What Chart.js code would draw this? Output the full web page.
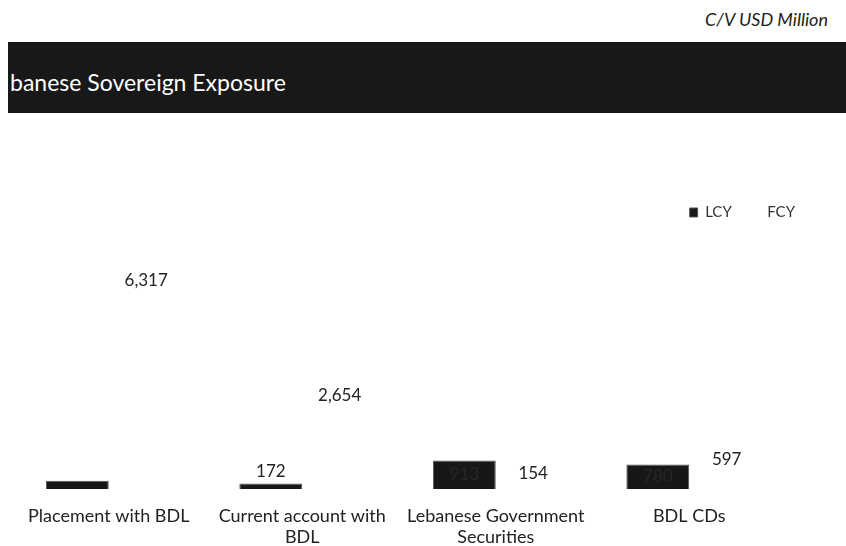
<!DOCTYPE html>
<html>
<head>
<meta charset="utf-8">
<script src="https://cdn.jsdelivr.net/npm/chart.js@4.4.0/dist/chart.umd.min.js"></script>
<style>
  html, body { margin: 0; padding: 0; background: #fff; width: 846px; height: 546px; overflow: hidden; }
  body { position: relative; font-family: Lato, "Open Sans", sans-serif; }
  .unit { position: absolute; right: 18px; top: 8px; font-size: 18px; font-style: italic; color: #222; }
  .band { position: absolute; left: 8px; right: 0; top: 42px; height: 71px; background: #181818; }
  .band span { position: absolute; left: 2px; top: 26px; font-size: 23px; color: #fff; }
  #wrap { position: absolute; left: 0; top: 171px; width: 846px; height: 390px; }
</style>
</head>
<body>
<div class="unit">C/V USD Million</div>
<div class="band"><span>banese Sovereign Exposure</span></div>
<div id="wrap"><canvas id="myChart"></canvas></div>
<script>
const categories = [
  "Placement with BDL",
  ["Current account with", "BDL"],
  ["Lebanese Government", "Securities"],
  "BDL CDs"
];
const lcyValues = [260, 172, 913, 780];
const fcyValues = [6317, 2654, 154, 597];
// where each LCY value label goes: "top", "inside" or none
const lcyLabelMode = ["none", "top", "inside", "inside"];

const FONT = "Lato, 'Open Sans', sans-serif";
const fmt = v => v.toLocaleString("en-US");

const valueLabels = {
  id: "valueLabels",
  afterDatasetsDraw(chart) {
    const ctx = chart.ctx;
    ctx.save();
    ctx.font = "17px " + FONT;
    ctx.textAlign = "center";
    ctx.textBaseline = "bottom";
    chart.getDatasetMeta(0).data.forEach((bar, i) => {
      const mode = lcyLabelMode[i];
      if (mode === "top") {
        ctx.fillStyle = "#222";
        ctx.fillText(fmt(lcyValues[i]), bar.x, bar.y - 4);
      } else if (mode === "inside") {
        ctx.fillStyle = "#262626";
        ctx.textBaseline = "middle";
        ctx.fillText(fmt(lcyValues[i]), bar.x, (bar.y + bar.base) / 2);
        ctx.textBaseline = "bottom";
      }
    });
    chart.getDatasetMeta(1).data.forEach((bar, i) => {
      ctx.fillStyle = "#222";
      ctx.fillText(fmt(fcyValues[i]), bar.x + 6, bar.y - 2);
    });
    ctx.restore();
  }
};

new Chart(document.getElementById("myChart"), {
  type: "bar",
  data: {
    labels: categories,
    datasets: [
      { label: "LCY", data: lcyValues, backgroundColor: "#171717", borderColor: "#555", borderWidth: 1 },
      { label: "FCY", data: fcyValues, backgroundColor: "#ffffff", borderWidth: 0 }
    ]
  },
  options: {
    responsive: true,
    maintainAspectRatio: false,
    animation: false,
    layout: { padding: { left: 12, right: 31, top: 14, bottom: 4 } },
    datasets: { bar: { categoryPercentage: 0.65, barPercentage: 1 } },
    plugins: {
      legend: {
        position: "top",
        align: "end",
        labels: {
          boxWidth: 8,
          boxHeight: 9,
          padding: 20,
          color: "#333",
          font: { family: FONT, size: 15 }
        }
      },
      tooltip: { enabled: false }
    },
    scales: {
      x: {
        grid: { display: false },
        border: { display: false },
        ticks: {
          color: "#222",
          padding: 9,
          maxRotation: 0,
          autoSkip: false,
          font: { family: FONT, size: 18, lineHeight: "21px" }
        }
      },
      y: {
        position: "right",
        min: 0,
        max: 8270,
        grid: { display: false },
        border: { display: false },
        ticks: { display: false },
        afterFit(scale) { scale.width = 29; }
      }
    }
  },
  plugins: [valueLabels]
});
</script>
</body>
</html>
